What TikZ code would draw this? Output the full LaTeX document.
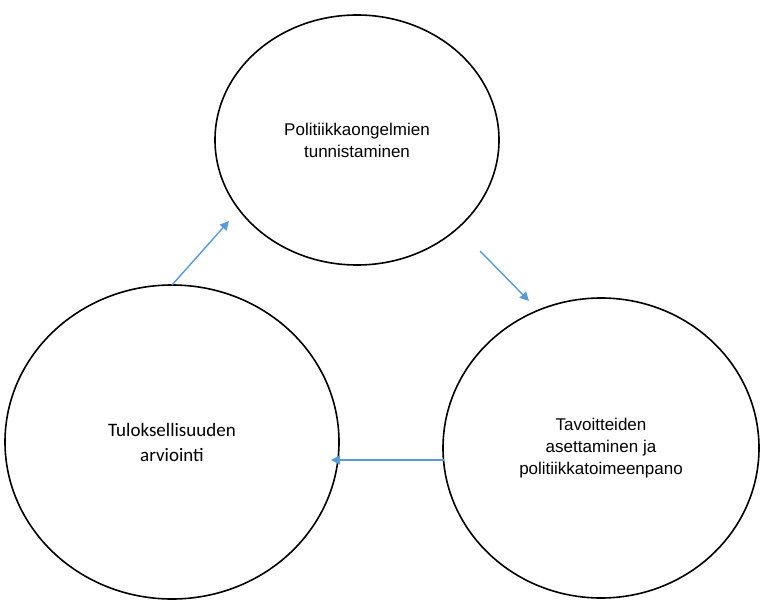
\documentclass[tikz,border=0pt]{standalone}
\usepackage{fontspec}
\setmainfont{Liberation Sans}
\newfontfamily\calfont{Carlito}
\usetikzlibrary{shapes.geometric}
\usetikzlibrary{arrows.meta}
\tikzset{
    phase/.style = {ellipse, line width=1.6pt, draw=black, align=center, inner sep=0pt, font=\fontsize{17}{22}\selectfont},
    flow/.style = {-{Triangle[length=9pt,width=9pt]}, line width=1.4pt, draw={rgb,255:red,91;green,155;blue,213}}
}
\begin{document}
\begin{tikzpicture}[x=1pt,y=-1pt]
  \useasboundingbox (0,0) rectangle (768,604);
  % phases
  \node[phase, minimum width=284pt, minimum height=250pt] (ident) at (357,140) {Politiikkaongelmien\\tunnistaminen};
  \node[phase, minimum width=316pt, minimum height=300pt] (goal) at (601,448) {Tavoitteiden\\asettaminen ja\\politiikkatoimeenpano};
  \node[phase, minimum width=334pt, minimum height=314pt, font=\calfont\fontsize{19}{25}\selectfont] (eval) at (172,442) {Tuloksellisuuden\\arviointi};
  % arrows
  \coordinate (a1) at (172,285); \coordinate (b1) at (229,221);
  \coordinate (a2) at (480,251); \coordinate (b2) at (529,301);
  \coordinate (a3) at (444,460); \coordinate (b3) at (331,460);
  \draw[flow] (a1) -- (b1);
  \draw[flow] (a2) -- (b2);
  \draw[flow] (a3) -- (b3);
\end{tikzpicture}
\end{document}
